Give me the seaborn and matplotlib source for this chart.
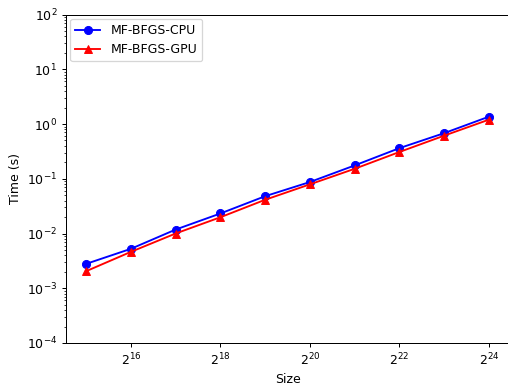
import matplotlib
matplotlib.use("Agg")
import matplotlib.pyplot as plt
import seaborn as sns
import numpy as np
import pandas as pd
from matplotlib.ticker import LogFormatterSciNotation, NullLocator, FixedLocator

sizes = [2**15, 2**16, 2**17, 2**18, 2**19, 2**20, 2**21, 2**22, 2**23, 2**24]
cpu_times = [0.00279, 0.00525, 0.0118, 0.0232, 0.048, 0.0871, 0.175, 0.362, 0.68, 1.36]
gpu_times = [0.00205, 0.00462, 0.0100, 0.0198, 0.0413, 0.0790, 0.152, 0.308, 0.612, 1.20]
xtick_vals = [2**16, 2**18, 2**20, 2**22, 2**24]

df_cpu = pd.DataFrame({"Size": sizes, "Time": cpu_times})
df_gpu = pd.DataFrame({"Size": sizes, "Time": gpu_times})

DPI = 90
fig = plt.figure(figsize=(508/DPI, 384/DPI), dpi=DPI)
ax = fig.add_axes([66/508, 1 - 343/384, (509 - 66)/508, (343 - 14.5)/384])

sns.lineplot(data=df_cpu, x="Size", y="Time", ax=ax, color="blue", marker="o",
             markersize=6.5, markeredgecolor="blue", label="MF-BFGS-CPU")
sns.lineplot(data=df_gpu, x="Size", y="Time", ax=ax, color="red", marker="^",
             markersize=6.5, markeredgecolor="red", label="MF-BFGS-GPU")

ax.set_xscale("log", base=2)
ax.set_yscale("log")
ax.set_ylim(1e-4, 1e2)
ax.xaxis.set_major_locator(FixedLocator(xtick_vals))
ax.xaxis.set_minor_locator(NullLocator())
ax.xaxis.set_major_formatter(LogFormatterSciNotation(base=2))
ax.set_xlabel("Size")
ax.set_ylabel("Time (s)")
ax.legend(loc="upper left", borderaxespad=0.35)

fig.savefig("out.png", dpi=DPI)
